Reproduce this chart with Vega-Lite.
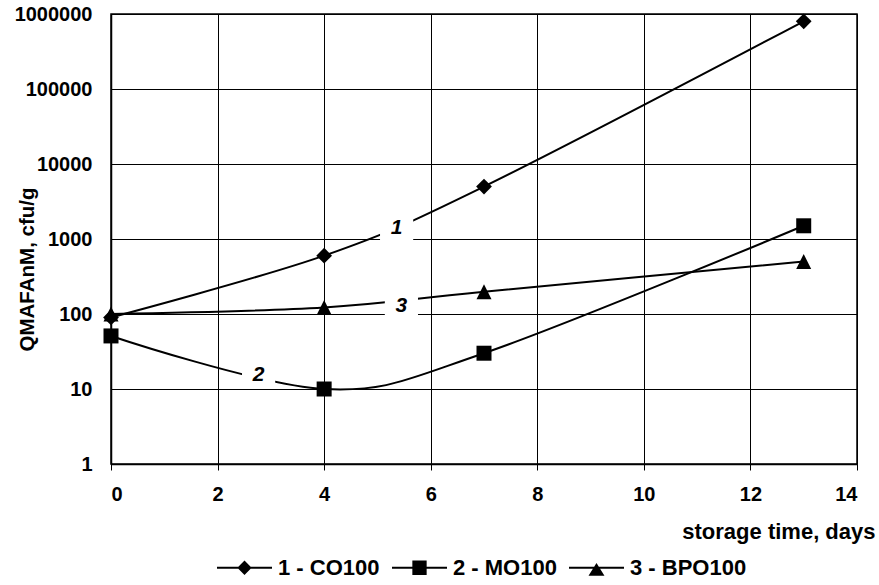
{
  "$schema": "https://vega.github.io/schema/vega-lite/v6.json",
  "width": 746,
  "height": 450,
  "autosize": {"type": "none"},
  "padding": {"left": 111, "top": 14, "right": 22, "bottom": 121},
  "background": "white",
  "config": {
    "view": {"stroke": "black", "strokeWidth": 1.5},
    "font": "Liberation Sans",
    "axis": {
      "gridColor": "black", "gridOpacity": 1, "gridWidth": 1,
      "domainColor": "black", "domainWidth": 1.5,
      "tickColor": "black", "tickWidth": 1,
      "labelFont": "Liberation Sans", "labelFontWeight": "bold", "labelFontSize": 20, "labelColor": "black",
      "titleFont": "Liberation Sans", "titleFontWeight": "bold", "titleColor": "black"
    }
  },
  "datasets": {
    "series": [
      {"series": "1 - CO100", "day": 0, "cfu": 90},
      {"series": "1 - CO100", "day": 4, "cfu": 600},
      {"series": "1 - CO100", "day": 7, "cfu": 5000},
      {"series": "1 - CO100", "day": 13, "cfu": 800000},
      {"series": "2 - MO100", "day": 0, "cfu": 51},
      {"series": "2 - MO100", "day": 4, "cfu": 10},
      {"series": "2 - MO100", "day": 7, "cfu": 30},
      {"series": "2 - MO100", "day": 13, "cfu": 1500},
      {"series": "3 - BPO100", "day": 0, "cfu": 100},
      {"series": "3 - BPO100", "day": 4, "cfu": 122},
      {"series": "3 - BPO100", "day": 7, "cfu": 198},
      {"series": "3 - BPO100", "day": 13, "cfu": 500}
    ],
    "labels": [
      {"label": "1", "day": 5.36, "cfu": 1400},
      {"label": "2", "day": 2.77, "cfu": 15.4},
      {"label": "3", "day": 5.45, "cfu": 128}
    ]
  },
  "layer": [
    {
      "data": {"name": "series"},
      "mark": {"type": "line", "interpolate": "cardinal", "color": "black", "strokeWidth": 2},
      "encoding": {
        "x": {
          "field": "day", "type": "quantitative",
          "scale": {"domain": [0, 14], "nice": false},
          "axis": {
            "values": [0, 2, 4, 6, 8, 10, 12, 14],
            "tickSize": 6, "labelPadding": 14,
            "title": "storage time, days", "titleFontSize": 22,
            "titleX": 764, "titleY": 74, "titleAlign": "right", "titleBaseline": "alphabetic"
          }
        },
        "y": {
          "field": "cfu", "type": "quantitative",
          "scale": {"type": "log", "domain": [1, 1000000], "nice": false},
          "axis": {
            "values": [1, 10, 100, 1000, 10000, 100000, 1000000],
            "format": "d", "ticks": false, "labelPadding": 19,
            "title": "QMAFAnM, cfu/g", "titleFontSize": 20.5,
            "titleX": -84, "titleY": 255, "titleAngle": -90,
            "titleAlign": "center", "titleBaseline": "middle"
          }
        },
        "detail": {"field": "series"}
      }
    },
    {
      "data": {"name": "labels"},
      "mark": {"type": "point", "shape": "M-1,-0.8H1V0.8H-1Z", "filled": true, "color": "white", "opacity": 1, "size": 1100},
      "encoding": {
        "x": {"field": "day", "type": "quantitative"},
        "y": {"field": "cfu", "type": "quantitative"}
      }
    },
    {
      "data": {"name": "labels"},
      "mark": {"type": "text", "font": "Liberation Sans", "fontWeight": "bold", "fontStyle": "italic", "fontSize": 21, "color": "black"},
      "encoding": {
        "x": {"field": "day", "type": "quantitative"},
        "y": {"field": "cfu", "type": "quantitative"},
        "text": {"field": "label"}
      }
    },
    {
      "data": {"name": "series"},
      "mark": {"type": "point", "filled": true, "color": "black", "opacity": 1, "size": 225},
      "encoding": {
        "x": {"field": "day", "type": "quantitative"},
        "y": {"field": "cfu", "type": "quantitative"},
        "shape": {
          "field": "series",
          "scale": {"domain": ["1 - CO100", "2 - MO100", "3 - BPO100"], "range": ["M0,-1.05L1.05,0L0,1.05L-1.05,0Z", "square", "M0,-1L1,1L-1,1Z"]},
          "legend": null
        }
      }
    },
    {
      "data": {"name": "series"},
      "transform": [{"filter": "datum.day < 0"}],
      "mark": {"type": "point", "filled": true, "color": "black", "opacity": 1},
      "encoding": {
        "x": {"field": "day", "type": "quantitative"},
        "y": {"field": "cfu", "type": "quantitative"},
        "shape": {
          "field": "series",
          "scale": {
            "domain": ["1 - CO100", "2 - MO100", "3 - BPO100"],
            "range": [
              "M-1,-0.036H1V0.036H-1ZM0,-0.26L0.26,0L0,0.26L-0.26,0Z",
              "M-1,-0.036H1V0.036H-1ZM-0.26,-0.26H0.26V0.26H-0.26Z",
              "M-1,-0.036H1V0.036H-1ZM0,-0.17L0.29,0.29L-0.29,0.29Z"
            ]
          },
          "legend": {
            "title": null, "orient": "none", "legendX": 106, "legendY": 526,
            "direction": "horizontal", "symbolSize": 3025,
            "labelFont": "Liberation Sans", "labelFontWeight": "bold", "labelFontSize": 22, "labelColor": "black",
            "labelOffset": 6, "columnPadding": 12, "labelLimit": 300,
            "symbolStrokeWidth": 0, "symbolFillColor": "black",
            "encode": {"symbols": {"update": {"fill": {"value": "black"}, "strokeWidth": {"value": 0}, "opacity": {"value": 1}}}}
          }
        }
      }
    }
  ],
  "resolve": {"scale": {"shape": "independent"}, "legend": {"shape": "independent"}}
}
